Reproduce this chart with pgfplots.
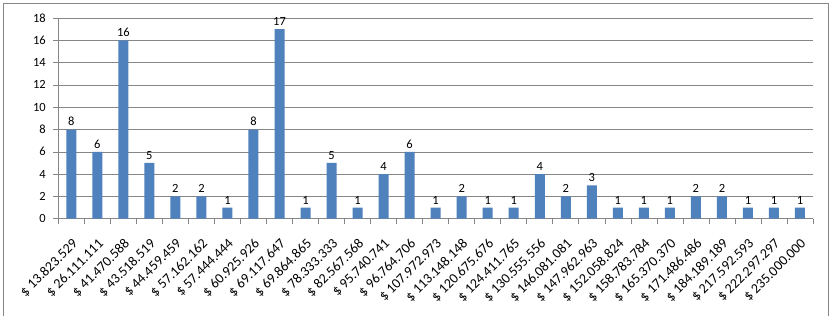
\documentclass[border=0pt]{standalone}
\usepackage{fontspec}
\setmainfont{Carlito}
\usepackage{pgfplots}
\pgfplotsset{compat=1.18}
\definecolor{barblue}{RGB}{79,129,189}
\definecolor{gridgray}{RGB}{134,134,134}
\begin{document}
\begin{tikzpicture}[x=1pt,y=1pt]
\useasboundingbox (0,0) rectangle (830,316);
\fill[white] (0,0) rectangle (830,316);
\draw[gridgray] (3,0) -- (3,313) -- (828,313) -- (828,0);
\begin{axis}[
  at={(58.3pt,97.3pt)}, anchor=south west,
  scale only axis, width=754.7pt, height=200.7pt,
  xmin=-0.5, xmax=28.5, ymin=0, ymax=18,
  ytick={0,2,...,18},
  ymajorgrids, grid style={gridgray, line width=0.6pt},
  axis x line*=bottom, axis y line*=left,
  axis line style={gridgray, line width=0.6pt, -},
  tick style={gridgray, line width=0.6pt},
  tick align=outside, major tick length=5pt, minor tick length=5pt,
  xtick={0,...,28},
  minor xtick={-0.5,0.5,...,28.5},
  major x tick style={draw=none},
  xticklabels={\$ 13.823.529,\$ 26.111.111,\$ 41.470.588,\$ 43.518.519,\$ 44.459.459,\$ 57.162.162,\$ 57.444.444,\$ 60.925.926,\$ 69.117.647,\$ 69.864.865,\$ 78.333.333,\$ 82.567.568,\$ 95.740.741,\$ 96.764.706,\$ 107.972.973,\$ 113.148.148,\$ 120.675.676,\$ 124.411.765,\$ 130.555.556,\$ 146.081.081,\$ 147.962.963,\$ 152.058.824,\$ 158.783.784,\$ 165.370.370,\$ 171.486.486,\$ 184.189.189,\$ 217.592.593,\$ 222.297.297,\$ 235.000.000},
  ticklabel style={font=\fontsize{12.5}{15}\selectfont, black},
  xticklabel style={xshift=0pt, yshift=-14pt, rotate=45, anchor=north east, inner sep=0pt, font=\fontsize{14}{16}\selectfont},
  yticklabel style={xshift=-4pt},
  /pgf/number format/assume math mode=true,
  ybar, bar width=10pt,
  nodes near coords,
  every node near coord/.append style={font=\fontsize{12.5}{15}\selectfont, black},
]
\addplot[fill=barblue, draw=none, bar shift=0pt] coordinates {
(0,8) (1,6) (2,16) (3,5) (4,2) (5,2) (6,1) (7,8) (8,17) (9,1)
(10,5) (11,1) (12,4) (13,6) (14,1) (15,2) (16,1) (17,1) (18,4) (19,2)
(20,3) (21,1) (22,1) (23,1) (24,2) (25,2) (26,1) (27,1) (28,1)};
\end{axis}
\end{tikzpicture}
\end{document}
